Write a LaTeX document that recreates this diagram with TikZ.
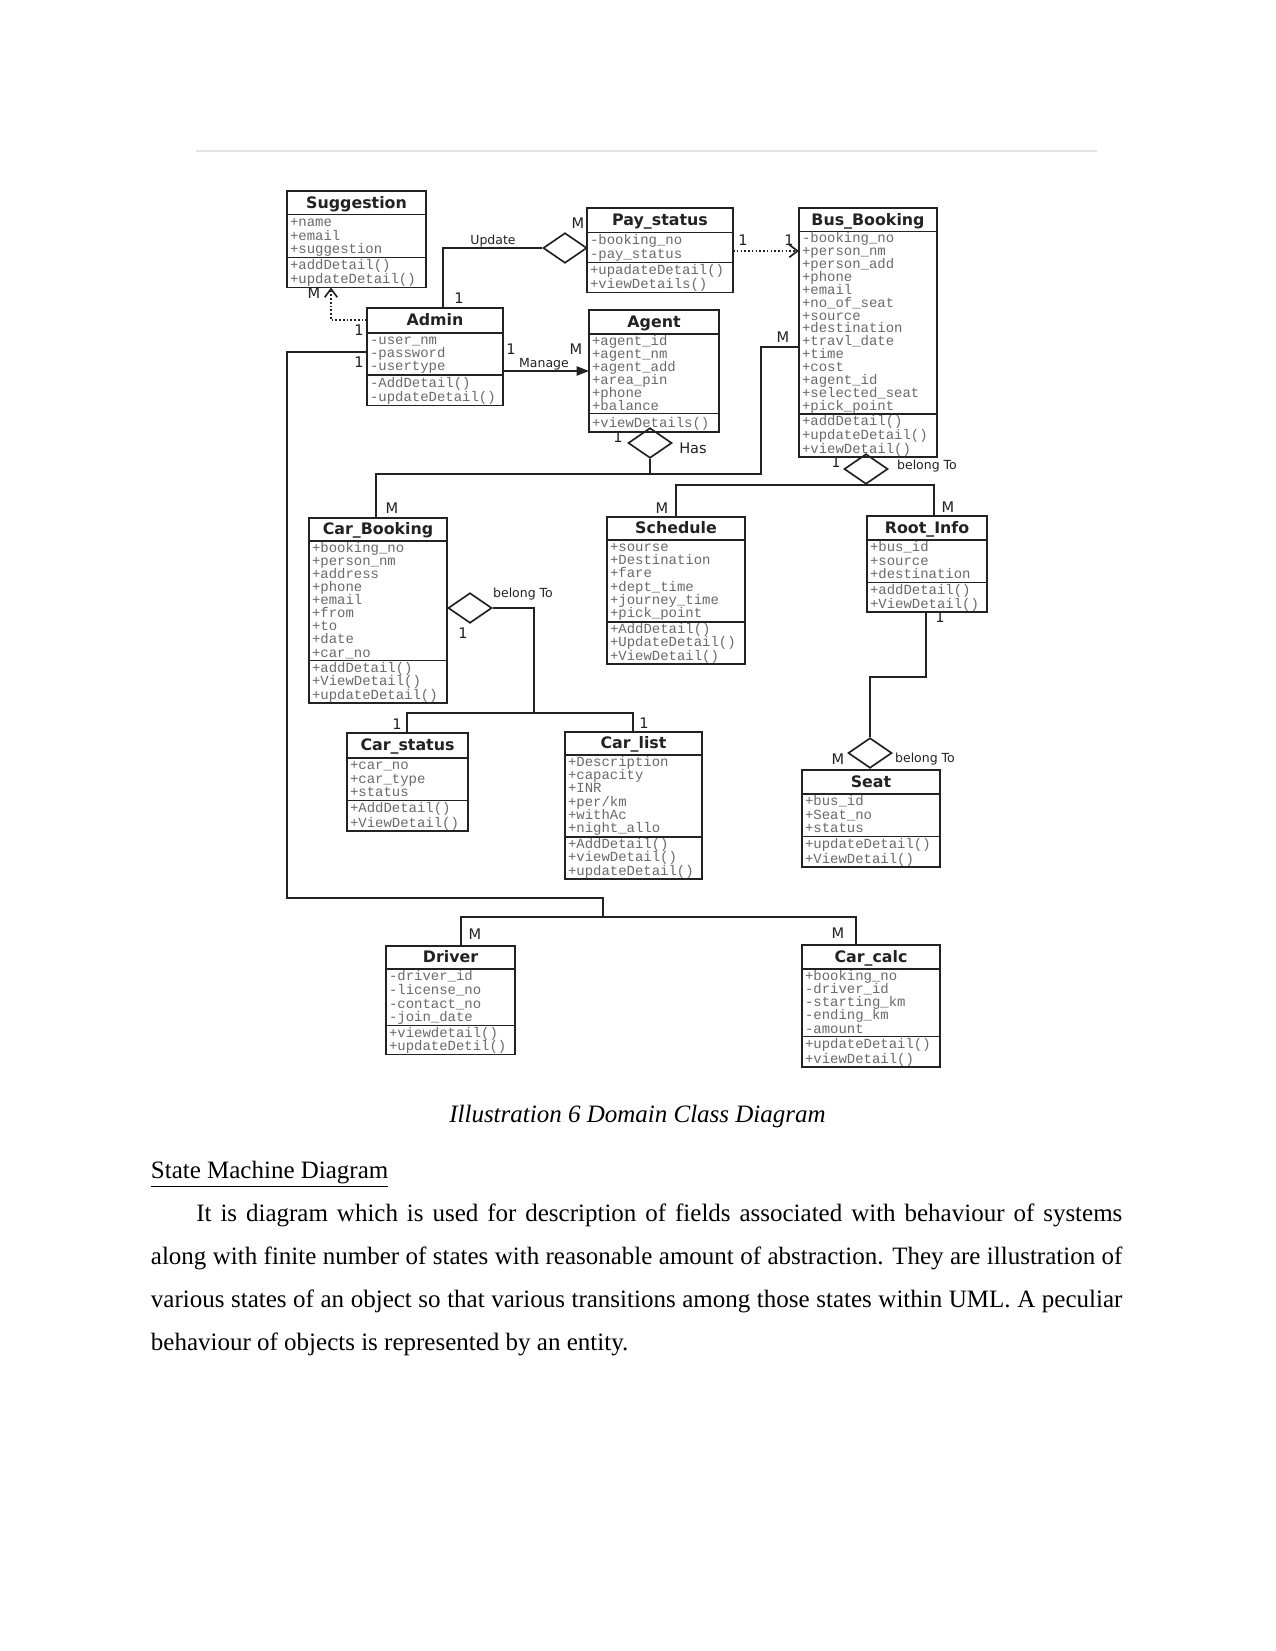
\documentclass[tikz,border=0pt]{standalone}
\usepackage{fontspec}
\setmainfont{Liberation Serif}
\newfontfamily\clsfont{DejaVu Sans}
\newfontfamily\attrfont{Liberation Mono}
\usetikzlibrary{arrows.meta,positioning,shapes.geometric,shapes.multipart,calc}
\definecolor{Ink}{HTML}{222222}
\definecolor{AttrGray}{HTML}{6A6A6A}
\definecolor{TopRule}{HTML}{E4E4E4}
\newdimen\pxu \pxu=0.48pt
\newdimen\rowh
\newcommand{\ctitle}[3]{\hbox to #1\pxu{\hss\rowh=#2\pxu\color{Ink}\clsfont\bfseries\fontsize{7.6}{8}\selectfont\vrule width0pt height.74\rowh depth.26\rowh\relax #3\hss}}
\newcommand{\crows}[4]{\hbox to #1\pxu{\hskip3\pxu\vbox{\rowh=\dimexpr#2\pxu/#3\relax\baselineskip=\rowh\lineskiplimit=-\maxdimen\lineskip=0pt\let\\\cr\halign{\vrule width0pt height.81\rowh depth.19\rowh\relax##\hfil\cr#4\crcr}}\hss}}

\begin{document}
\begin{tikzpicture}[x=0.48pt,y=-0.48pt,
  cls/.style={rectangle split,rectangle split parts=3,draw=Ink,line width=0.8pt,inner sep=0pt,outer sep=0pt,anchor=north west,text=AttrGray,font=\attrfont\fontsize{6.7}{7}\selectfont},
  assoc/.style={diamond,draw=Ink,line width=0.8pt,inner sep=0pt,minimum width=21pt,minimum height=14.5pt},
  conn/.style={draw=Ink,line width=0.8pt},
  dep/.style={draw=Ink,line width=0.8pt,densely dotted,-{Straight Barb[length=4pt,width=6pt]}},
  mult/.style={font=\clsfont\fontsize{7}{8}\selectfont,text=Ink,inner sep=0pt},
  lbl/.style={font=\clsfont\fontsize{6}{7}\selectfont,text=Ink,inner sep=0pt}]
  \path[fill=white,use as bounding box] (0,0) rectangle (1275,1651);
  \draw[TopRule,line width=1.2pt] (196,151) -- (1097,151);

  \node[cls] (sugg) at (287,191) {\ctitle{139}{22}{Suggestion}\nodepart{second}\crows{139}{41}{3}{+name\\+email\\+suggestion}\nodepart{third}\crows{139}{28}{2}{+addDetail()\\+updateDetail()}};
  \node[cls] (admin) at (367,308) {\ctitle{136}{23}{Admin}\nodepart{second}\crows{136}{40}{3}{-user\_nm\\-password\\-usertype}\nodepart{third}\crows{136}{29}{2}{-AddDetail()\\-updateDetail()}};
  \node[cls] (paystatus) at (587,208) {\ctitle{146}{23}{Pay\_status}\nodepart{second}\crows{146}{28}{2}{-booking\_no\\-pay\_status}\nodepart{third}\crows{146}{28}{2}{+upadateDetail()\\+viewDetails()}};
  \node[cls] (agent) at (589,310) {\ctitle{130}{22}{Agent}\nodepart{second}\crows{130}{78}{6}{+agent\_id\\+agent\_nm\\+agent\_add\\+area\_pin\\+phone\\+balance}\nodepart{third}\crows{130}{17}{1}{+viewDetails()}};
  \node[cls] (busbooking) at (799,208) {\ctitle{138}{22}{Bus\_Booking}\nodepart{second}\crows{138}{180}{14}{-booking\_no\\+person\_nm\\+person\_add\\+phone\\+email\\+no\_of\_seat\\+source\\+destination\\+travl\_date\\+time\\+cost\\+agent\_id\\+selected\_seat\\+pick\_point}\nodepart{third}\crows{138}{41}{3}{+addDetail()\\+updateDetail()\\+viewDetail()}};
  \node[cls] (carbooking) at (309,518) {\ctitle{138}{21}{Car\_Booking}\nodepart{second}\crows{138}{118}{9}{+booking\_no\\+person\_nm\\+address\\+phone\\+email\\+from\\+to\\+date\\+car\_no}\nodepart{third}\crows{138}{41}{3}{+addDetail()\\+ViewDetail()\\+updateDetail()}};
  \node[cls] (schedule) at (607,517) {\ctitle{138}{21}{Schedule}\nodepart{second}\crows{138}{80}{6}{+sourse\\+Destination\\+fare\\+dept\_time\\+journey\_time\\+pick\_point}\nodepart{third}\crows{138}{40}{3}{+AddDetail()\\+UpdateDetail()\\+ViewDetail()}};
  \node[cls] (rootinfo) at (867,516) {\ctitle{120}{22}{Root\_Info}\nodepart{second}\crows{120}{41}{3}{+bus\_id\\+source\\+destination}\nodepart{third}\crows{120}{28}{2}{+addDetail()\\+ViewDetail()}};
  \node[cls] (carstatus) at (347,733) {\ctitle{121}{23}{Car\_status}\nodepart{second}\crows{121}{41}{3}{+car\_no\\+car\_type\\+status}\nodepart{third}\crows{121}{29}{2}{+AddDetail()\\+ViewDetail()}};
  \node[cls] (carlist) at (565,732) {\ctitle{137}{21}{Car\_list}\nodepart{second}\crows{137}{80}{6}{+Description\\+capacity\\+INR\\+per/km\\+withAc\\+night\_allo}\nodepart{third}\crows{137}{40}{3}{+AddDetail()\\+viewDetail()\\+updateDetail()}};
  \node[cls] (seat) at (802,770) {\ctitle{138}{22}{Seat}\nodepart{second}\crows{138}{41}{3}{+bus\_id\\+Seat\_no\\+status}\nodepart{third}\crows{138}{29}{2}{+updateDetail()\\+ViewDetail()}};
  \node[cls] (driver) at (386,946) {\ctitle{129}{21}{Driver}\nodepart{second}\crows{129}{55}{4}{-driver\_id\\-license\_no\\-contact\_no\\-join\_date}\nodepart{third}\crows{129}{27}{2}{+viewdetail()\\+updateDetil()}};
  \node[cls] (carcalc) at (802,945) {\ctitle{138}{22}{Car\_calc}\nodepart{second}\crows{138}{66}{5}{+booking\_no\\-driver\_id\\-starting\_km\\-ending\_km\\-amount}\nodepart{third}\crows{138}{29}{2}{+updateDetail()\\+viewDetail()}};

  \node[assoc] (upd) at (565,248) {};
  \node[assoc] (has) at (650,443) {};
  \node[assoc] (busrel) at (866,469) {};
  \node[assoc] (seatrel) at (870,753) {};
  \node[assoc] (carrel) at (470,608) {};
  \coordinate (mg) at ($(admin.north east)+(0,63)$);
  \coordinate (pb) at ($(paystatus.north east)+(0,43)$);
  \coordinate (hasjoin) at (650,474);
  \coordinate (drvjoin) at (603,917);
  \coordinate (cljoin) at (534,713);

  \draw[dep] ($(admin.north west)+(0,12)$) -| ($(sugg.south west)+(44,0)$);
  \draw[conn] (upd.west) -| ($(admin.north west)+(76,0)$);
  \draw[conn,-{Triangle[length=6pt,width=4.5pt]}] (mg) -- (mg -| agent.west);
  \draw[dep] (pb) -- (pb -| busbooking.west);
  \draw[conn] ($(admin.north west)+(0,44)$) -| (287,898) -| (drvjoin);
  \draw[conn] ($(driver.north west)+(75,0)$) |- (drvjoin) -| ($(carcalc.north west)+(54,0)$);
  \draw[conn] ($(busbooking.north west)+(0,139)$) -| (761,474) -| ($(carbooking.north west)+(67,0)$);
  \draw[conn] (has.south) -- (hasjoin);
  \draw[conn] ($(schedule.north west)+(69,0)$) |- (busrel.south) -| ($(rootinfo.north west)+(67,0)$);
  \draw[conn] ($(rootinfo.south west)+(59,0)$) -- ++(0,65) -| (seatrel.north);
  \draw[conn] (carrel.east) -| (cljoin);
  \draw[conn] ($(carstatus.north west)+(60,0)$) |- (cljoin) -| ($(carlist.north west)+(68,0)$);

  \node[mult] (m-sugg) at (314,293) {M};
  \node[mult] (o-sugg) at (359,330) {1};
  \node[mult] (o-drv) at (359,362) {1};
  \node[mult] (o-upd) at (459,298) {1};
  \node[mult] (m-upd) at (578,223) {M};
  \node[lbl] (l-upd) at (493,241) {Update};
  \node[mult] (o-mg) at (511,349) {1};
  \node[mult] (m-mg) at (576,349) {M};
  \node[lbl] (l-mg) at (544,364) {Manage};
  \node[mult] (o-pay) at (743,240) {1};
  \node[mult] (o-bus) at (789,240) {1};
  \node[mult] (m-bus) at (783,337) {M};
  \node[mult] (o-has) at (618,437) {1};
  \node[mult] (l-has) at (693,448) {Has};
  \node[mult] (m-cb) at (392,508) {M};
  \node[mult] (o-br) at (836,462) {1};
  \node[lbl] (l-br) at (927,466) {belong To};
  \node[mult] (m-sch) at (662,508) {M};
  \node[mult] (m-ri) at (948,507) {M};
  \node[mult] (o-ri) at (940,617) {1};
  \node[mult] (m-seat) at (838,759) {M};
  \node[lbl] (l-seat) at (925,759) {belong To};
  \node[lbl] (l-car) at (523,594) {belong To};
  \node[mult] (o-car) at (463,633) {1};
  \node[mult] (o-cs) at (397,724) {1};
  \node[mult] (o-cl) at (644,723) {1};
  \node[mult] (m-drv) at (475,934) {M};
  \node[mult] (m-cc) at (838,933) {M};

  \node[anchor=base,inner sep=0pt,font=\fontsize{12}{14}\selectfont\itshape] (caption) at (637.5,1122) {Illustration 6 Domain Class Diagram};
  \node[anchor=base west,inner sep=0pt,font=\fontsize{12}{14}\selectfont] (heading) at (150.5,1178) {\underline{State Machine Diagram}};
  \node[anchor=base west,inner sep=0pt,text width=466.3pt,align=justify,font=\fontsize{12}{20.64}\selectfont] (para) at (150.5,1221) {\hspace*{21.8pt}It is diagram which is used for description of fields associated with behaviour of systems\linebreak along with finite number of states with reasonable amount of abstraction. They are illustration of\linebreak various states of an object so that various transitions among those states within UML. A peculiar\linebreak behaviour of objects is represented by an entity.};
\end{tikzpicture}
\end{document}
